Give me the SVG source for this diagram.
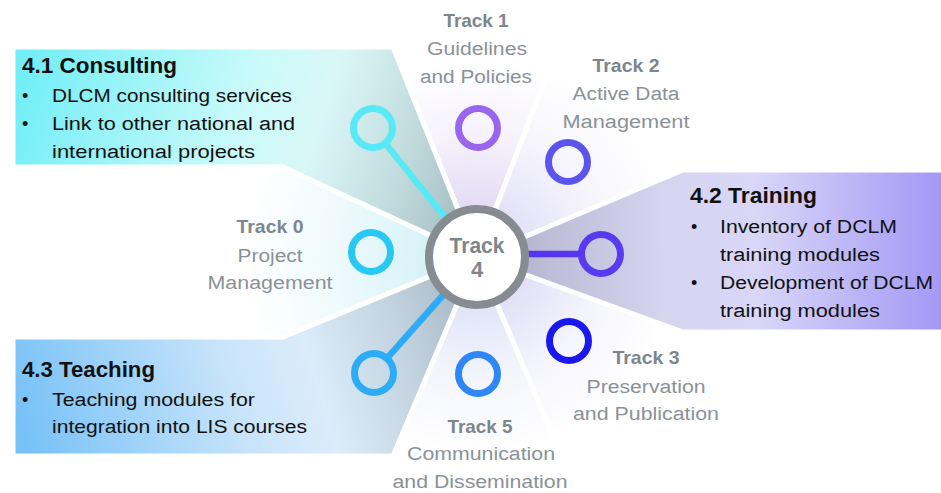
<svg xmlns="http://www.w3.org/2000/svg" width="941" height="493" viewBox="0 0 941 493">
<style>
text{font-family:"Liberation Sans",Arial,sans-serif}
.sec{stroke:#fff;stroke-width:5;stroke-linejoin:miter}
.ring{fill:none;stroke-width:7}
.tt{font-weight:bold;font-size:18.5px;fill:#7d858d;text-anchor:middle}
.ts{font-size:18px;fill:#8a9298;text-anchor:middle}
.bt{font-weight:bold;font-size:22px;fill:#111}
.bx{font-size:18px;fill:#111}
.conn{fill:none;stroke-width:6.5;stroke-linecap:butt}
</style>
<defs>
<radialGradient id="g0" gradientUnits="userSpaceOnUse" cx="477" cy="257" r="260"><stop offset="0.15" stop-color="#d3f1f7"/><stop offset="0.55" stop-color="#eefafc"/><stop offset="0.9" stop-color="#fff"/></radialGradient>
<radialGradient id="g1" gradientUnits="userSpaceOnUse" cx="477" cy="257" r="220"><stop offset="0.2" stop-color="#e2d9f4"/><stop offset="0.55" stop-color="#f5f2fc"/><stop offset="0.9" stop-color="#fff"/></radialGradient>
<radialGradient id="g2" gradientUnits="userSpaceOnUse" cx="477" cy="257" r="220"><stop offset="0.2" stop-color="#e2e0f7"/><stop offset="0.55" stop-color="#f5f4fc"/><stop offset="0.9" stop-color="#fff"/></radialGradient>
<radialGradient id="g3" gradientUnits="userSpaceOnUse" cx="477" cy="257" r="220"><stop offset="0.2" stop-color="#e0def6"/><stop offset="0.55" stop-color="#f4f4fc"/><stop offset="0.9" stop-color="#fff"/></radialGradient>
<radialGradient id="g5" gradientUnits="userSpaceOnUse" cx="477" cy="257" r="220"><stop offset="0.2" stop-color="#dfe3f7"/><stop offset="0.55" stop-color="#f4f5fc"/><stop offset="0.9" stop-color="#fff"/></radialGradient>
<linearGradient id="c41" gradientUnits="userSpaceOnUse" x1="13" y1="100" x2="470" y2="250"><stop offset="0" stop-color="#72eef6"/><stop offset="0.45" stop-color="#c8fafa"/><stop offset="0.62" stop-color="#daf7f7"/><stop offset="0.82" stop-color="#c0dadc"/><stop offset="1" stop-color="#9fb7bb"/></linearGradient>
<linearGradient id="c42" gradientUnits="userSpaceOnUse" x1="941" y1="250" x2="480" y2="255"><stop offset="0" stop-color="#a398f5"/><stop offset="0.4" stop-color="#d9d6f8"/><stop offset="0.6" stop-color="#d6d5f0"/><stop offset="0.85" stop-color="#bebdd8"/><stop offset="1" stop-color="#a6a7bf"/></linearGradient>
<linearGradient id="c43" gradientUnits="userSpaceOnUse" x1="13" y1="410" x2="470" y2="265"><stop offset="0" stop-color="#76c1f7"/><stop offset="0.45" stop-color="#c8e4fa"/><stop offset="0.62" stop-color="#dbecfa"/><stop offset="0.82" stop-color="#c2d2de"/><stop offset="1" stop-color="#a3b4c2"/></linearGradient>
</defs>

<g id="track0">
<polygon class="sec" fill="url(#g0)" points="477,257 187,122 181,379"/>
<circle class="ring" cx="371" cy="252" r="19.5" stroke="#27c8f4"/>
<text class="tt" x="270" y="233" textLength="67" lengthAdjust="spacingAndGlyphs">Track 0</text>
<text class="ts" x="270" y="262" textLength="65" lengthAdjust="spacingAndGlyphs">Project</text>
<text class="ts" x="270" y="289" textLength="125" lengthAdjust="spacingAndGlyphs">Management</text>
</g>

<g id="track1">
<polygon class="sec" fill="url(#g1)" points="477,257 358,-40 592,-42"/>
<circle class="ring" cx="478" cy="128" r="19.5" stroke="#9a66ef"/>
<text class="tt" x="476" y="27" textLength="65" lengthAdjust="spacingAndGlyphs">Track 1</text>
<text class="ts" x="477" y="55" textLength="100" lengthAdjust="spacingAndGlyphs">Guidelines</text>
<text class="ts" x="476" y="83" textLength="112" lengthAdjust="spacingAndGlyphs">and Policies</text>
</g>

<g id="track2">
<polygon class="sec" fill="url(#g2)" points="477,257 592,-42 772,133"/>
<circle class="ring" cx="568" cy="162" r="19.5" stroke="#5b55ee"/>
<text class="tt" x="626" y="72" textLength="67" lengthAdjust="spacingAndGlyphs">Track 2</text>
<text class="ts" x="626" y="100" textLength="107" lengthAdjust="spacingAndGlyphs">Active Data</text>
<text class="ts" x="626" y="128" textLength="127" lengthAdjust="spacingAndGlyphs">Management</text>
</g>

<g id="track3">
<polygon class="sec" fill="url(#g3)" points="477,257 778,366 602,552"/>
<circle class="ring" cx="569" cy="341" r="19.5" stroke="#1b18ee"/>
<text class="tt" x="646" y="364" textLength="67" lengthAdjust="spacingAndGlyphs">Track 3</text>
<text class="ts" x="646" y="393" textLength="119" lengthAdjust="spacingAndGlyphs">Preservation</text>
<text class="ts" x="646" y="420" textLength="146" lengthAdjust="spacingAndGlyphs">and Publication</text>
</g>

<g id="track5">
<polygon class="sec" fill="url(#g5)" points="477,257 602,552 352,552"/>
<circle class="ring" cx="478" cy="374" r="19.5" stroke="#2f86f5"/>
<text class="tt" x="480" y="433" textLength="65" lengthAdjust="spacingAndGlyphs">Track 5</text>
<text class="ts" x="481" y="460" textLength="148" lengthAdjust="spacingAndGlyphs">Communication</text>
<text class="ts" x="480" y="488" textLength="175" lengthAdjust="spacingAndGlyphs">and Dissemination</text>
</g>

<g id="consulting">
<polygon class="sec" fill="url(#c41)" points="13,47 393,47 477,257 283,167 13,167"/>
<circle class="ring" cx="373" cy="128" r="19.5" stroke="#58e9f6"/>
<text class="bt" x="22" y="73" textLength="155" lengthAdjust="spacingAndGlyphs">4.1 Consulting</text>
<text class="bx" x="22" y="102">•</text>
<text class="bx" x="52" y="102" textLength="240" lengthAdjust="spacingAndGlyphs">DLCM consulting services</text>
<text class="bx" x="22" y="130">•</text>
<text class="bx" x="52" y="130" textLength="243" lengthAdjust="spacingAndGlyphs">Link to other national and</text>
<text class="bx" x="52" y="158" textLength="203" lengthAdjust="spacingAndGlyphs">international projects</text>
</g>

<g id="training">
<polygon class="sec" fill="url(#c42)" points="477,257 683,170 946,170 946,332 683,332"/>
<circle class="ring" cx="601" cy="254" r="19.5" stroke="#5a3af0"/>
<text class="bt" x="690" y="203" textLength="127" lengthAdjust="spacingAndGlyphs">4.2 Training</text>
<text class="bx" x="691" y="233">•</text>
<text class="bx" x="720" y="233" textLength="177" lengthAdjust="spacingAndGlyphs">Inventory of DCLM</text>
<text class="bx" x="720" y="261" textLength="160" lengthAdjust="spacingAndGlyphs">training modules</text>
<text class="bx" x="691" y="289">•</text>
<text class="bx" x="720" y="289" textLength="213" lengthAdjust="spacingAndGlyphs">Development of DCLM</text>
<text class="bx" x="720" y="317" textLength="160" lengthAdjust="spacingAndGlyphs">training modules</text>
</g>

<g id="teaching">
<polygon class="sec" fill="url(#c43)" points="13,337 283,337 477,257 393,456 13,456"/>
<circle class="ring" cx="374" cy="373" r="19.5" stroke="#2dacf6"/>
<text class="bt" x="22" y="377" textLength="133" lengthAdjust="spacingAndGlyphs">4.3 Teaching</text>
<text class="bx" x="22" y="406">•</text>
<text class="bx" x="52" y="406" textLength="203" lengthAdjust="spacingAndGlyphs">Teaching modules for</text>
<text class="bx" x="52" y="433" textLength="255" lengthAdjust="spacingAndGlyphs">integration into LIS courses</text>
</g>

<g id="connectors">
<line class="conn" x1="477" y1="257" x2="385.2" y2="143.2" stroke="#58e9f6"/>
<line class="conn" x1="477" y1="254" x2="581.5" y2="254" stroke="#5535f0"/>
<line class="conn" x1="477" y1="257" x2="386.9" y2="358.4" stroke="#2dacf6"/>
</g>

<g id="hub">
<circle cx="477" cy="257" r="48" fill="#fff" stroke="#868c92" stroke-width="8"/>
<text x="477" y="253" font-weight="bold" font-size="22" fill="#7e868d" text-anchor="middle" textLength="55" lengthAdjust="spacingAndGlyphs">Track</text>
<text x="477" y="277" font-weight="bold" font-size="22" fill="#7e868d" text-anchor="middle">4</text>
</g>
</svg>
